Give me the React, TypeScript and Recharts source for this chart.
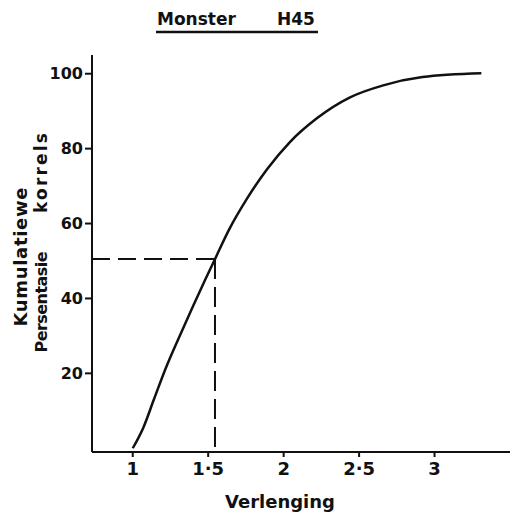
import { LineChart, Line, XAxis, YAxis, ReferenceLine } from "recharts";

// curve: verlenging (x) vs kumulatiewe persentasie (y)
const verlenging = [1.0, 1.07, 1.14, 1.22, 1.3, 1.4, 1.48, 1.545, 1.64, 1.755, 1.89, 2.04, 2.22, 2.44, 2.66, 2.92, 3.31];
const persentasie = [0, 5.5, 13, 21.5, 29, 38, 45, 50.5, 58.5, 66.5, 74.5, 81.7, 88.1, 93.7, 96.9, 99.1, 100.1];

const xTicks = [1, 1.5, 2, 2.5, 3];
const yTicks = [20, 40, 60, 80, 100];

// dashed median guide
const medianX = 1.545;
const medianY = 50.5;

const X_DOMAIN: [number, number] = [0.73, 3.5];
const Y_DOMAIN: [number, number] = [-1, 105];

const FONT = "'DejaVu Sans', sans-serif";
const INK = "#111";

const data = verlenging.map((x, i) => ({ x, y: persentasie[i] }));

export default function App() {
  return (
    <div style={{ position: "absolute", left: 0, top: 0, width: 512, height: 523, background: "#fff" }}>
      <LineChart width={512} height={523} data={data} margin={{ top: 55, right: 2, bottom: 0, left: 0 }}>
        <XAxis
          dataKey="x"
          type="number"
          domain={X_DOMAIN}
          ticks={xTicks}
          allowDataOverflow
          height={71}
          tickSize={5}
          tickMargin={5}
          tickFormatter={(v: number) => String(v).replace(".", "·")}
          axisLine={{ stroke: INK, strokeWidth: 2 }}
          tickLine={{ stroke: INK, strokeWidth: 2 }}
          tick={{ fill: INK, fontSize: 18, fontWeight: 700, fontFamily: FONT }}
        />
        <YAxis
          type="number"
          domain={Y_DOMAIN}
          ticks={yTicks}
          allowDataOverflow
          width={92}
          tickSize={7}
          tickMargin={2}
          axisLine={{ stroke: INK, strokeWidth: 2 }}
          tickLine={{ stroke: INK, strokeWidth: 2 }}
          tick={{ fill: INK, fontSize: 16, fontWeight: 700, fontFamily: FONT }}
        />
        <ReferenceLine
          segment={[{ x: X_DOMAIN[0], y: medianY }, { x: medianX, y: medianY }]}
          stroke={INK}
          strokeWidth={2}
          strokeDasharray="18 8"
        />
        <ReferenceLine
          segment={[{ x: medianX, y: medianY }, { x: medianX, y: Y_DOMAIN[0] }]}
          stroke={INK}
          strokeWidth={2}
          strokeDasharray="20 8"
        />
        <Line
          dataKey="y"
          type="monotone"
          stroke={INK}
          strokeWidth={2.5}
          dot={false}
          isAnimationActive={false}
        />
      </LineChart>
      <svg
        width={512}
        height={523}
        style={{ position: "absolute", left: 0, top: 0, pointerEvents: "none" }}
        fontFamily={FONT}
        fontWeight={700}
        fill={INK}
      >
        <text x={157} y={25} fontSize={17}>Monster</text>
        <text x={277} y={25} fontSize={17}>H45</text>
        <line x1={156} y1={32} x2={318} y2={32} stroke={INK} strokeWidth={2.5} />
        <text
          x={27}
          y={257}
          fontSize={18}
          textAnchor="middle"
          textLength={139}
          lengthAdjust="spacing"
          transform="rotate(-90 27 257)"
        >
          Kumulatiewe
        </text>
        <text
          x={47}
          y={302}
          fontSize={16}
          textAnchor="middle"
          textLength={101}
          lengthAdjust="spacing"
          transform="rotate(-90 47 302)"
        >
          Persentasie
        </text>
        <text
          x={47}
          y={173}
          fontSize={17}
          textAnchor="middle"
          textLength={80}
          lengthAdjust="spacing"
          transform="rotate(-90 47 173)"
        >
          korrels
        </text>
        <text x={280} y={508} fontSize={18} textAnchor="middle">Verlenging</text>
      </svg>
    </div>
  );
}
